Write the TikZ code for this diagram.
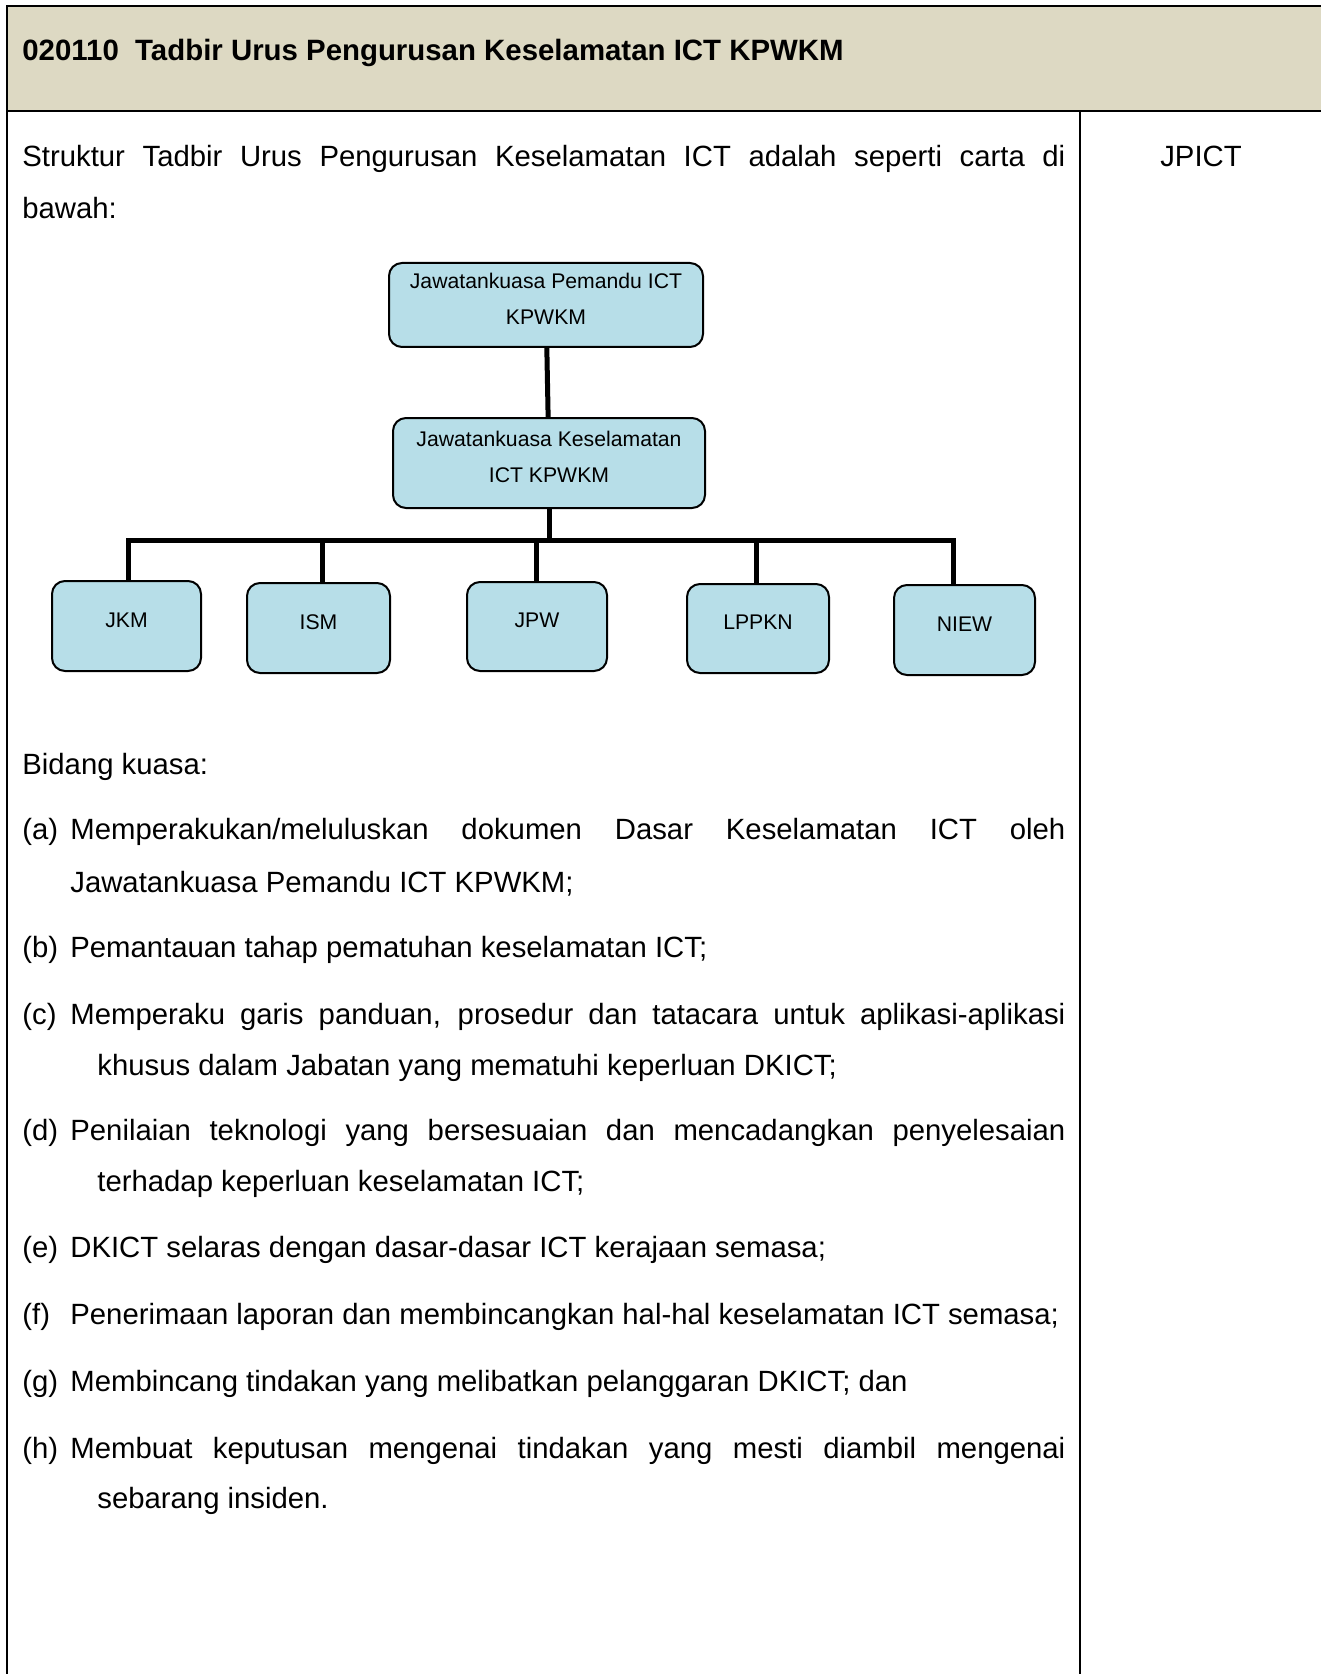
\documentclass[tikz,border=0pt]{standalone}
\usepackage{fontspec}
\setmainfont{Liberation Sans}
\newlength{\px}
\setlength{\px}{0.5pt}
\definecolor{headfill}{HTML}{DDD9C3}
\definecolor{boxfill}{HTML}{B7DEE8}
\tikzset{
  orgbox/.style={draw, line width=1pt, fill=boxfill, rounded corners=6.5pt,
    align=center, inner sep=0pt, font=\fontsize{10.6}{18}\selectfont,
    execute at end node={\rule[-6pt]{0pt}{6pt}}},
  link/.style={line width=2.5pt},
  rule/.style={line width=1pt},
  body/.style={anchor=base west, inner sep=0pt, font=\fontsize{14.65}{17}\selectfont}
}
\begin{document}
\begin{tikzpicture}[x=\px, y=-\px]
\useasboundingbox (0,0) rectangle (1321,1674);

% table
\fill[headfill] (7,6) rectangle (1321,111);
\draw[rule] (1321,6) -- (7,6) -- (7,1674);
\draw[rule] (7,111) -- (1321,111);
\draw[rule] (1080,111) -- (1080,1674);

\node[anchor=base west, inner sep=0pt, font=\bfseries\fontsize{14.7}{17}\selectfont] (title) at (22,61) {020110\ \ Tadbir Urus Pengurusan Keselamatan ICT KPWKM};
\node[body, anchor=base] (owner) at (1201,167) {JPICT};

\node[body] (intro) at (22,167) {\makebox[1043\px][s]{Struktur Tadbir Urus Pengurusan Keselamatan ICT adalah seperti carta di}};
\node[body] (intro2) at (22,219) {bawah:};

% chart
\node[orgbox, minimum width=314\px, minimum height=84\px] (pemandu) at (546,305) {Jawatankuasa Pemandu ICT\\KPWKM};
\node[orgbox, minimum width=312\px, minimum height=90\px] (keselamatan) at (549,463) {Jawatankuasa Keselamatan\\ICT KPWKM};

\node[orgbox, minimum width=149\px, minimum height=90\px] (jkm) at (126.5,626) {JKM};
\node[orgbox, minimum width=143\px, minimum height=90\px] (ism) at (318.5,628) {ISM};
\node[orgbox, minimum width=140\px, minimum height=89\px] (jpw) at (537,626.5) {JPW};
\node[orgbox, minimum width=142\px, minimum height=89\px] (lppkn) at (758,628.5) {LPPKN};
\node[orgbox, minimum width=141\px, minimum height=90\px] (niew) at (964.5,630) {NIEW};

\coordinate (bus) at (549,540);
\draw[link] (pemandu) -- (keselamatan);
\draw[link] (keselamatan) -- (bus);
\draw[link] ([xshift=1.5\px]jkm.north) |- (bus);
\draw[link] ([xshift=3.5\px]ism.north) |- (bus);
\draw[link] ([xshift=-1\px]jpw.north) |- (bus);
\draw[link] ([xshift=-2\px]lppkn.north) |- (bus);
\draw[link] ([xshift=-11.5\px]niew.north) |- (bus);

% bidang kuasa
\node[body] (bidang) at (22,774) {Bidang kuasa:};

\node[body] (la) at (22,839) {(a)};
\node[body] (ta) at (70,839) {\makebox[995\px][s]{Memperakukan/meluluskan dokumen Dasar Keselamatan ICT oleh}};
\node[body] (ta2) at (70,892) {Jawatankuasa Pemandu ICT KPWKM;};

\node[body] (lb) at (22,957) {(b)};
\node[body] (tb) at (70,957) {Pemantauan tahap pematuhan keselamatan ICT;};

\node[body] (lc) at (22,1024) {(c)};
\node[body] (tc) at (70,1024) {\makebox[995\px][s]{Memperaku garis panduan, prosedur dan tatacara untuk aplikasi-aplikasi}};
\node[body] (tc2) at (97,1075) {khusus dalam Jabatan yang mematuhi keperluan DKICT;};

\node[body] (ld) at (22,1140) {(d)};
\node[body] (td) at (70,1140) {\makebox[995\px][s]{Penilaian teknologi yang bersesuaian dan mencadangkan penyelesaian}};
\node[body] (td2) at (97,1191) {terhadap keperluan keselamatan ICT;};

\node[body] (le) at (22,1257) {(e)};
\node[body] (te) at (70,1257) {DKICT selaras dengan dasar-dasar ICT kerajaan semasa;};

\node[body] (lf) at (22,1324) {(f)};
\node[body] (tf) at (70,1324) {Penerimaan laporan dan membincangkan hal-hal keselamatan ICT semasa;};

\node[body] (lg) at (22,1391) {(g)};
\node[body] (tg) at (70,1391) {Membincang tindakan yang melibatkan pelanggaran DKICT; dan};

\node[body] (lh) at (22,1458) {(h)};
\node[body] (th) at (70,1458) {\makebox[995\px][s]{Membuat keputusan mengenai tindakan yang mesti diambil mengenai}};
\node[body] (th2) at (97,1508) {sebarang insiden.};
\end{tikzpicture}
\end{document}
